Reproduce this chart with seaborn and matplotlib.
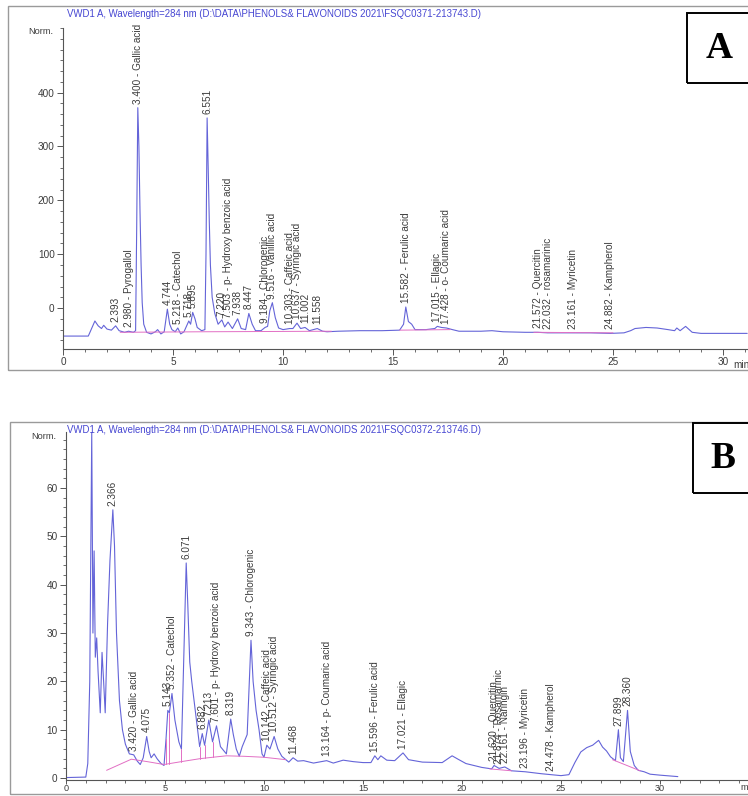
import numpy as np
import pandas as pd
import matplotlib
matplotlib.use('Agg')
import matplotlib.pyplot as plt
import seaborn as sns
from matplotlib.patches import Rectangle
from matplotlib.ticker import MultipleLocator

# ---- panel A: chromatogram trace (retention time in min, signal in Norm.)
time_a = [0, 1.15, 1.3, 1.45, 1.6, 1.75, 1.85, 2.0, 2.2, 2.393, 2.55, 2.8, 2.98, 3.2,
          3.3, 3.35, 3.4, 3.45, 3.5, 3.55, 3.6, 3.67, 3.8, 4.0, 4.2, 4.3, 4.45, 4.6,
          4.744, 4.85, 4.95, 5.1, 5.218, 5.35, 5.5, 5.718, 5.8, 5.895, 6.0, 6.1, 6.3,
          6.45, 6.5, 6.551, 6.6, 6.65, 6.7, 6.78, 6.9, 7.05, 7.22, 7.35, 7.503, 7.7,
          7.938, 8.1, 8.3, 8.447, 8.6, 8.75, 9.0, 9.184, 9.3, 9.4, 9.516, 9.65, 9.8,
          10.0, 10.303, 10.45, 10.637, 10.8, 11.002, 11.2, 11.558, 11.8, 12.0, 12.5,
          13.5, 14.5, 15.3, 15.48, 15.582, 15.7, 15.85, 16.0, 16.5, 16.9, 17.015, 17.2,
          17.428, 17.7, 18.0, 19.0, 19.5, 20.0, 21.0, 21.572, 22.032, 23.161, 24.0,
          24.882, 25.5, 25.8, 26.0, 26.5, 27.0, 27.5, 27.8, 27.9, 28.05, 28.3, 28.6,
          29.0, 30.0, 31.1]
signal_a = [-52, -52, -38, -24, -33, -38, -32, -39, -41, -33, -42, -45, -43, -45,
            -42, 150, 372, 300, 180, 80, 10, -30, -45, -48, -44, -40, -48, -44,
            -2, -30, -40, -44, -37, -48, -44, -24, -30, -8, -20, -36, -42,
            -40, 100, 353, 260, 160, 80, 20, -10, -30, -22, -35, -26, -38,
            -20, -38, -40, -10, -30, -42, -42, -36, -34, -5, 10, -18, -37,
            -40, -38, -38, -28, -38, -36, -42, -38, -43, -44, -43,
            -42, -42, -41, -30, 2, -25, -30, -40, -40, -38, -34, -36,
            -37, -40, -43, -43, -42, -44, -45, -45, -46, -46, -46,
            -47, -46, -42, -38, -36, -37, -40, -42, -37, -42, -34, -45,
            -47, -47, -47]

# integration baselines (pink), one segment id per stretch
base_time_a = [2.6, 6.4, 12.2, 15.3, 17.6, 21.4, 25.0]
base_sig_a = [-45, -44, -43, -41, -40, -45, -46]
base_seg_a = [0, 0, 0, 1, 1, 2, 2]

peak_rt_a = [2.393, 2.980, 3.400, 4.744, 5.218, 5.718, 5.895, 6.551, 7.220, 7.503,
             7.938, 8.447, 9.184, 9.516, 10.303, 10.637, 11.002, 11.558, 15.582,
             17.015, 17.428, 21.572, 22.032, 23.161, 24.882]
peak_name_a = ['', 'Pyrogallol', 'Gallic acid', '', 'Catechol', '', '', '', '',
               'p- Hydroxy benzoic acid', '', '', 'Chlorogenic', 'Vanillic acid',
               'Caffeic acid', 'Syringic acid', '', '', 'Ferulic acid', 'Ellagic',
               'o- Coumaric acid', 'Quercitin', 'rosamarinic', 'Myricetin', 'Kampherol']

# ---- panel B
time_b = [0, 1.0, 1.1, 1.2, 1.3, 1.36, 1.42, 1.48, 1.55, 1.62, 1.73, 1.82, 1.9, 1.98,
          2.1, 2.22, 2.366, 2.45, 2.55, 2.7, 2.85, 3.0, 3.2, 3.42, 3.6, 3.75, 3.9,
          4.075, 4.2, 4.3, 4.45, 4.6, 4.8, 4.95, 5.05, 5.143, 5.22, 5.352, 5.5, 5.7,
          5.83, 5.95, 6.071, 6.15, 6.25, 6.35, 6.5, 6.65, 6.75, 6.882, 7.0, 7.213,
          7.4, 7.601, 7.8, 8.0, 8.1, 8.319, 8.45, 8.6, 8.75, 8.9, 9.05, 9.15, 9.343,
          9.45, 9.6, 9.75, 9.9, 10.0, 10.142, 10.3, 10.512, 10.7, 10.9, 11.1, 11.25,
          11.468, 11.7, 12.0, 12.5, 13.164, 13.5, 14.0, 14.5, 15.0, 15.4, 15.596,
          15.75, 15.9, 16.2, 16.6, 17.021, 17.3, 18.0, 19.0, 19.5, 19.8, 20.2, 21.0,
          21.5, 21.62, 21.874, 22.161, 22.5, 23.196, 24.0, 24.478, 25.0, 25.4, 25.7,
          26.0, 26.3, 26.6, 26.9, 27.1, 27.3, 27.5, 27.75, 27.899, 28.0, 28.15, 28.36,
          28.5, 28.7, 28.9, 29.2, 29.5, 30.0, 30.9]
signal_b = [0.1, 0.2, 3, 20, 71.5, 30, 47, 25, 29, 22, 13.5, 26, 20, 13.5,
            32, 45, 55.5, 48, 30, 16, 10, 7, 5, 4.8, 3.5, 2.8, 4.2,
            8.6, 5.5, 4.2, 5, 4, 3, 2.6, 8, 14, 13.5, 17.5, 12, 7.5,
            6, 25, 44.5, 36, 24, 20, 15, 10, 6.5, 9.2, 6.8, 12,
            7.5, 10.8, 6.5, 5.5, 5, 12.2, 9, 6, 4.5, 6.5, 8, 9, 28.5,
            20, 14, 10, 5, 4.3, 6.8, 6, 8.6, 6, 4.5, 3.8, 3.3,
            4.2, 3.5, 3.6, 3.1, 3.6, 3.1, 3.7, 3.4, 3.2, 3.2, 4.6,
            3.8, 4.6, 3.7, 3.6, 5.2, 3.8, 3.3, 3.2, 4.6, 3.9, 3.0, 2.2,
            1.9, 2.6, 2.0, 2.3, 1.5, 1.3, 0.9, 0.7, 0.5, 0.7, 3.2,
            5.4, 6.3, 6.8, 7.8, 6.4, 5.6, 4.4, 3.6, 10.0, 4.2, 3.4, 14,
            5.5, 2.6, 1.6, 1.3, 0.8, 0.6, 0.3]

base_time_b = [2.05, 3.3, 4.1, 4.95, 5.83, 6.75, 7.4, 8.1, 9.0, 10.0, 11.1,
               21.4, 22.5, 27.6, 29.0]
base_sig_b = [1.6, 3.9, 3.4, 2.8, 3.4, 4.0, 4.3, 4.6, 4.5, 4.3, 3.8,
              1.9, 1.5, 3.8, 1.5]
base_seg_b = [0, 0, 0, 0, 0, 0, 0, 0, 0, 0, 0, 1, 1, 2, 2]
drop_time_b = [5.05, 5.22, 5.83, 6.75, 7.0, 7.4]

peak_rt_b = [2.366, 3.420, 4.075, 5.143, 5.352, 6.071, 6.882, 7.213, 7.601, 8.319,
             9.343, 10.142, 10.512, 11.468, 13.164, 15.596, 17.021, 21.620, 21.874,
             22.161, 23.196, 24.478, 27.899, 28.360]
peak_name_b = ['', 'Gallic acid', '', '', 'Catechol', '', '', '', 'p- Hydroxy benzoic acid',
               '', 'Chlorogenic', 'Caffeic acid', 'Syringic acid', '', 'p- Coumaric acid',
               'Ferulic acid', 'Ellagic', 'Quercitin', 'Rosamarinic', 'Naringin',
               'Myricetin', 'Kampherol', '', '']

titles = ['VWD1 A, Wavelength=284 nm (D:\\DATA\\PHENOLS& FLAVONOIDS 2021\\FSQC0371-213743.D)',
          'VWD1 A, Wavelength=284 nm (D:\\DATA\\PHENOLS& FLAVONOIDS 2021\\FSQC0372-213746.D)']

sns.set_theme(style='white')
plt.rcParams['font.family'] = ['Liberation Sans', 'DejaVu Sans']

W, H = 748, 796
TRACE = '#6464d8'
PINK = '#e26fc4'
TXT = '#3c3c3c'
TITLE_C = '#4646d2'

fig = plt.figure(figsize=(W / 100, H / 100), dpi=100)


def fx(x):
    return x / W


def fy(y):
    return 1 - y / H


def panel(box, axpos, t, s, bt, bs, bseg, rts, names, xlim, ylim, ymaj, ymin_, title, letter, letterbox, pad):
    # outer screenshot frame
    x0, y0, x1, y1 = box
    fig.add_artist(Rectangle((fx(x0), fy(y1)), fx(x1 - x0), (y1 - y0) / H,
                             transform=fig.transFigure, fill=False, ec='#9a9a9a', lw=1.0))
    l, b, r, tp = axpos
    ax = fig.add_axes([fx(l), fy(b), fx(r - l), (b - tp) / H])
    df = pd.DataFrame({'t': t, 's': s})
    sns.lineplot(data=df, x='t', y='s', ax=ax, color=TRACE, lw=0.8,
                 estimator=None, sort=False)
    bdf = pd.DataFrame({'t': bt, 's': bs, 'seg': bseg})
    sns.lineplot(data=bdf, x='t', y='s', units='seg', ax=ax, color=PINK, lw=0.7,
                 estimator=None, sort=False)
    ax.set_xlim(*xlim)
    ax.set_ylim(*ylim)
    ax.set_xlabel('')
    ax.set_ylabel('')
    for sp in ['top', 'right']:
        ax.spines[sp].set_visible(False)
    for sp in ['left', 'bottom']:
        ax.spines[sp].set_color('#555555')
        ax.spines[sp].set_linewidth(0.8)
    ax.patch.set_alpha(0)
    ax.xaxis.set_major_locator(MultipleLocator(5))
    ax.xaxis.set_minor_locator(MultipleLocator(1))
    ax.yaxis.set_major_locator(MultipleLocator(ymaj))
    ax.yaxis.set_minor_locator(MultipleLocator(ymin_))
    ax.tick_params(which='major', direction='out', length=4, width=0.7, color='#555555',
                   labelsize=7.2, labelcolor=TXT, pad=2, bottom=True, left=True)
    ax.tick_params(which='minor', direction='out', length=2.5, width=0.6, color='#555555',
                   bottom=True, left=True)
    # peak labels
    for rt, nm in zip(rts, names):
        lab = f'{rt:.3f} - {nm}' if nm else f'{rt:.3f}'
        yv = np.interp(rt, t, s)
        ax.annotate(lab, xy=(rt, yv), xytext=(0, pad), textcoords='offset points',
                    rotation=90, ha='center', va='bottom', fontsize=7.2, color=TXT)
    fig.text(fx(67), fy(y0 + 8), title, fontsize=6.9, color=TITLE_C, ha='left', va='center')
    fig.text(fx(l - 10), fy(tp + 4), 'Norm.', fontsize=6.6, color=TXT, ha='right', va='center')
    lx0, ly0, lx1, ly1 = letterbox
    fig.add_artist(Rectangle((fx(lx0), fy(ly1)), fx(lx1 - lx0), (ly1 - ly0) / H,
                             transform=fig.transFigure, fill=False, ec='black', lw=1.4))
    fig.text(fx((lx0 + 752) / 2), fy((ly0 + ly1) / 2), letter, fontsize=27,
             fontweight='bold', family=['Liberation Serif', 'DejaVu Serif'],
             ha='center', va='center', color='black')
    return ax


ax_a = panel((8, 6, 760, 370), (63, 349, 748, 28), time_a, signal_a,
             base_time_a, base_sig_a, base_seg_a, peak_rt_a, peak_name_a,
             (0, (748 - 63) / 22.0), (-76, 520), 100, 20, titles[0], 'A',
             (687, 13, 760, 83), 3)
ax_a.set_yticks([0, 100, 200, 300, 400])
fig.text(fx(733), fy(365), 'min', fontsize=7.2, color=TXT, ha='left', va='center')

ax_b = panel((10, 422, 760, 794), (66, 779.5, 748, 432), time_b, signal_b,
             base_time_b, base_sig_b, base_seg_b, peak_rt_b, peak_name_b,
             (0, (748 - 66) / 19.8), (-0.3, 71.6), 10, 2, titles[1], 'B',
             (693, 423, 760, 493), 3)
ax_b.set_yticks([0, 10, 20, 30, 40, 50, 60])
ax_b.tick_params(axis='x', which='major', labelsize=6.6, pad=0.5, length=3)
ax_b.tick_params(axis='x', which='minor', length=2)
for dt in drop_time_b:
    ax_b.plot([dt, dt], [np.interp(dt, base_time_b[:11], base_sig_b[:11]),
                         np.interp(dt, time_b, signal_b)], color=PINK, lw=0.7)
fig.text(fx(740), fy(788), 'min', fontsize=6.6, color=TXT, ha='left', va='center')

fig.savefig('out.png', dpi=100)
